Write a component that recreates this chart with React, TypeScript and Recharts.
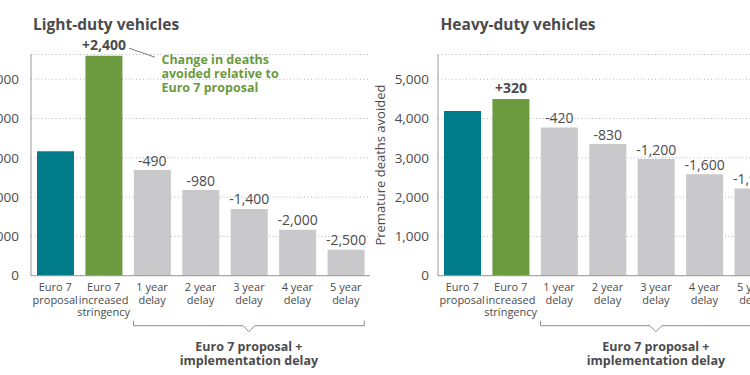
import React from 'react';
import { BarChart, Bar, XAxis, YAxis, CartesianGrid, Cell, LabelList } from 'recharts';

const categories = [
  'Euro 7\nproposal',
  'Euro 7\nincreased\nstringency',
  '1 year\ndelay',
  '2 year\ndelay',
  '3 year\ndelay',
  '4 year\ndelay',
  '5 year\ndelay',
];
const lightDutyValues = [3170, 5600, 2690, 2180, 1700, 1170, 660];
const lightDutyLabels = ['', '+2,400', '-490', '-980', '-1,400', '-2,000', '-2,500'];
const heavyDutyValues = [4190, 4500, 3770, 3350, 2970, 2585, 2220];
const heavyDutyLabels = ['', '+320', '-420', '-830', '-1,200', '-1,600', '-1,900'];
const yTicks = [0, 1000, 2000, 3000, 4000, 5000];
const yMax = 5630;
const barColors = ['#007b8a', '#6b9a3f', '#c9c8ca', '#c9c8ca', '#c9c8ca', '#c9c8ca', '#c9c8ca'];
const titles = ['Light-duty vehicles', 'Heavy-duty vehicles'];
const yAxisTitle = 'Premature deaths avoided';
const bracketLines = ['Euro 7 proposal +', 'implementation delay'];
const annotationLines = ['Change in deaths', 'avoided relative to', 'Euro 7 proposal'];

const FONT = '"Open Sans", "DejaVu Sans", sans-serif';
const TEXT = '#4b4b4d';
const GREEN_TEXT = '#6b9a3f';
const PLOT_W = 339;
const BAR = 37;
const BAND = PLOT_W / categories.length;

const lightData = categories.map((c, i) => ({ name: c, value: lightDutyValues[i], label: lightDutyLabels[i] }));
const heavyData = categories.map((c, i) => ({ name: c, value: heavyDutyValues[i], label: heavyDutyLabels[i] }));

const CategoryTick = (props: any) => {
  const { x, y, payload, index } = props;
  const lines: string[] = String(payload.value).split('\n');
  const by = y + 50;
  const half = BAR / 2;
  return (
    <g>
      {lines.map((l, i) => (
        <text key={i} x={x} y={y + 15.5 + i * 12.3} textAnchor="middle" fontFamily={FONT} fontSize={11} fill={TEXT}>
          {l}
        </text>
      ))}
      {index === 4 && (
        <g>
          <path
            d={`M${x - 2 * BAND - half},${by - 5} L${x - 2 * BAND - half},${by} L${x - 6},${by} L${x},${by + 6} L${x + 6},${by} L${x + 2 * BAND + half},${by} L${x + 2 * BAND + half},${by - 5}`}
            fill="none"
            stroke="#8a8a8c"
            strokeWidth={1}
          />
          {bracketLines.map((l, i) => (
            <text key={i} x={x} y={y + 75 + i * 14.5} textAnchor="middle" fontFamily={FONT} fontSize={12.5} fontWeight={700} fill={TEXT}>
              {l}
            </text>
          ))}
        </g>
      )}
    </g>
  );
};

const makeValueLabel = (withAnnotation: boolean) => (props: any) => {
  const { x, y, width, index, value } = props;
  if (!value) return null;
  const cx = x + width / 2;
  const bold = String(value).startsWith('+');
  return (
    <g>
      <text
        x={cx}
        y={y - (bold ? 5.5 : 4.5)}
        textAnchor="middle"
        fontFamily={FONT}
        fontSize={14}
        fontWeight={bold ? 700 : 400}
        fill={TEXT}
      >
        {value}
      </text>
      {withAnnotation && index === 1 && (
        <g>
          <line x1={cx + 25} y1={y - 7.5} x2={cx + 51} y2={y + 1.5} stroke="#7a7a7c" strokeWidth={1} />
          {annotationLines.map((l, i) => (
            <text key={i} x={cx + 57.5} y={y + 8.5 + i * 13.8} fontFamily={FONT} fontSize={12.5} fontWeight={700} fill={GREEN_TEXT}>
              {l}
            </text>
          ))}
        </g>
      )}
    </g>
  );
};

const YTitle = (props: any) => {
  const { viewBox } = props;
  const x = viewBox.x + 17.5;
  const y = viewBox.y + viewBox.height / 2;
  return (
    <text x={x} y={y} transform={`rotate(-90, ${x}, ${y})`} textAnchor="middle" fontFamily={FONT} fontSize={13} fill={TEXT}>
      {yAxisTitle}
    </text>
  );
};

const fmt = (v: number) => v.toLocaleString('en-US');

const Panel = ({ data, left, axisWidth, tickMargin, annotate, yTitle }: any) => (
  <div style={{ position: 'absolute', left, top: 0 }}>
    <BarChart
      width={axisWidth + PLOT_W}
      height={375}
      data={data}
      margin={{ top: 54.5, right: 0, bottom: 0, left: 0 }}
      barSize={BAR}
    >
      <CartesianGrid vertical={false} stroke="#b5b5b7" strokeDasharray="1 2.5" />
      <XAxis
        dataKey="name"
        interval={0}
        height={375 - 54.5 - 221.2}
        tickLine={false}
        tickSize={0}
        tickMargin={0}
        axisLine={{ stroke: '#9a9a9c' }}
        tick={<CategoryTick />}
      />
      <YAxis
        width={axisWidth}
        domain={[0, yMax]}
        ticks={yTicks}
        tickFormatter={fmt}
        tickLine={false}
        tickMargin={tickMargin}
        axisLine={{ stroke: '#9a9a9c' }}
        tick={{ fontFamily: FONT, fontSize: 13.5, fill: TEXT }}
        label={yTitle ? <YTitle /> : undefined}
      />
      <Bar dataKey="value" isAnimationActive={false}>
        {data.map((_: any, i: number) => (
          <Cell key={i} fill={barColors[i]} />
        ))}
        <LabelList dataKey="label" content={makeValueLabel(annotate)} />
      </Bar>
    </BarChart>
  </div>
);

export default function App() {
  return (
    <div style={{ position: 'absolute', left: 0, top: 0, width: 750, height: 375, overflow: 'hidden', background: '#fff' }}>
      <Panel data={lightData} left={-40} axisWidth={71} tickMargin={6} annotate={true} yTitle={false} />
      <Panel data={heavyData} left={368.3} axisWidth={70} tickMargin={3} annotate={false} yTitle={true} />
      <svg width={750} height={40} style={{ position: 'absolute', left: 0, top: 0 }}>
        <text x={33} y={29.5} fontFamily={FONT} fontSize={15.5} fontWeight={700} fill={TEXT}>
          {titles[0]}
        </text>
        <text x={440.5} y={29.5} fontFamily={FONT} fontSize={15.5} fontWeight={700} fill={TEXT}>
          {titles[1]}
        </text>
      </svg>
    </div>
  );
}
